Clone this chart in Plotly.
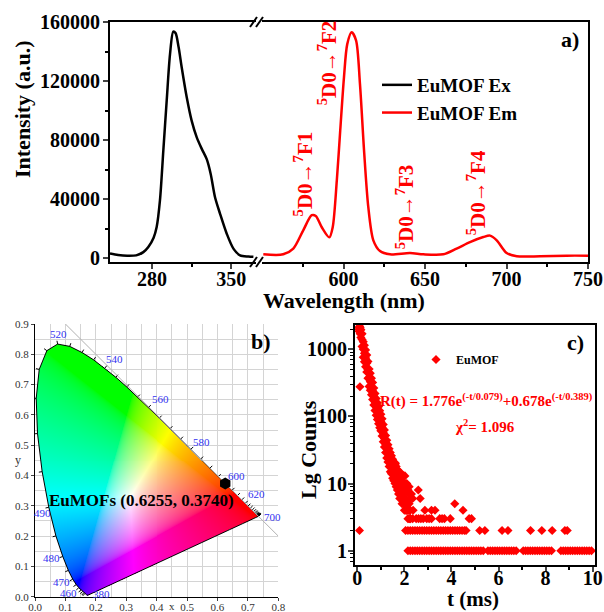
import numpy as np
import plotly.graph_objects as go
import zlib, struct, base64

W, H = 604, 612
def fx(p): return p / W
def fy(p): return 1 - p / H

SERIF = "Liberation Serif, Times New Roman, serif"

# ---------------- Panel a: excitation / emission spectra ----------------
ex_wl = [242.8, 250, 258, 266, 272.3, 276.7, 281.4, 284.1, 287.0, 290.0, 293.0, 295.9, 298.8, 300.8,
         303.5, 306.2, 310.7, 315.1, 319.5, 324.0, 328.4, 331.9, 335.8, 340.2, 346.1, 352.0, 357.9,
         365.3, 369.7]
ex_int = [3000, 2000, 1500, 1800, 4000, 7500, 13800, 21000, 39000, 73000, 107000, 138000, 153500,
          152500, 143000, 129500, 109000, 93000, 82000, 74000, 67000, 57000, 41000, 30000, 16500,
          6400, 1800, 1000, 800]

em_wl = [550.8, 563, 569.2, 575.3, 580.5, 583.0, 586.6, 591.3, 593.4, 595.9, 598.0, 600.3, 602.3,
         605.0, 607.7, 610.1, 612.6, 615.2, 618.3, 622.4, 628.5, 640.8, 649.0, 661.2, 669.4, 677.6,
         685.8, 689.9, 694.0, 700.1, 706.3, 720.6, 736.9, 750.0]
em_int = [2500, 2500, 6400, 18800, 29000, 28500, 21000, 14000, 21000, 52700, 86600, 122700, 145000,
          153000, 147600, 118000, 73000, 34600, 12000, 4700, 2500, 3400, 2500, 2500, 6400, 10800,
          14200, 15200, 12000, 3400, 1200, 1200, 1600, 1600]

trans_labels = ["<sup>5</sup>D0\u2192<sup>7</sup>F1", "<sup>5</sup>D0\u2192<sup>7</sup>F2",
                "<sup>5</sup>D0\u2192<sup>7</sup>F3", "<sup>5</sup>D0\u2192<sup>7</sup>F4"]
trans_wl = [575.2, 589.9, 637.7, 681.3]
trans_int = [56700, 132000, 35000, 43900]

ax_left_ticks = [280, 350]
ax_right_ticks = [600, 650, 700, 750]
ay_ticks = [0, 40000, 80000, 120000, 160000]
ay_ticktext = ["0", "40000", "80000", "120000", "160000"]

# ---------------- Panel b: CIE 1931 chromaticity ----------------
cie_wl = [380, 385, 390, 395, 400, 405, 410, 415, 420, 425, 430, 435, 440, 445, 450, 455, 460, 465,
          470, 475, 480, 485, 490, 495, 500, 505, 510, 515, 520, 525, 530, 535, 540, 545, 550, 555,
          560, 565, 570, 575, 580, 585, 590, 595, 600, 605, 610, 615, 620, 625, 630, 635, 640, 645,
          650, 655, 660, 665, 670, 675, 680, 685, 690, 695, 700]
cie_x = [0.1741, 0.1740, 0.1738, 0.1736, 0.1733, 0.1730, 0.1726, 0.1721, 0.1714, 0.1703, 0.1689,
         0.1669, 0.1644, 0.1611, 0.1566, 0.1510, 0.1440, 0.1355, 0.1241, 0.1096, 0.0913, 0.0687,
         0.0454, 0.0235, 0.0082, 0.0039, 0.0139, 0.0389, 0.0743, 0.1142, 0.1547, 0.1929, 0.2296,
         0.2658, 0.3016, 0.3373, 0.3731, 0.4087, 0.4441, 0.4788, 0.5125, 0.5448, 0.5752, 0.6029,
         0.6270, 0.6482, 0.6658, 0.6801, 0.6915, 0.7006, 0.7079, 0.7140, 0.7190, 0.7230, 0.7260,
         0.7283, 0.7300, 0.7311, 0.7320, 0.7327, 0.7334, 0.7340, 0.7344, 0.7346, 0.7347]
cie_y = [0.0050, 0.0050, 0.0049, 0.0049, 0.0048, 0.0048, 0.0048, 0.0048, 0.0051, 0.0058, 0.0069,
         0.0086, 0.0109, 0.0138, 0.0177, 0.0227, 0.0297, 0.0399, 0.0578, 0.0868, 0.1327, 0.2007,
         0.2950, 0.4127, 0.5384, 0.6548, 0.7502, 0.8120, 0.8338, 0.8262, 0.8059, 0.7816, 0.7543,
         0.7243, 0.6923, 0.6589, 0.6245, 0.5896, 0.5547, 0.5202, 0.4866, 0.4544, 0.4242, 0.3965,
         0.3725, 0.3514, 0.3340, 0.3197, 0.3083, 0.2993, 0.2920, 0.2859, 0.2809, 0.2770, 0.2740,
         0.2717, 0.2700, 0.2689, 0.2680, 0.2673, 0.2666, 0.2660, 0.2656, 0.2654, 0.2653]

wl_label_text = ["520", "540", "560", "580", "600", "620", "700", "500", "490", "480", "470", "460", "380"]
wl_label_x = [0.077, 0.263, 0.411, 0.548, 0.664, 0.729, 0.782, -0.033, 0.026, 0.055, 0.088, 0.110, 0.218]
wl_label_y = [0.867, 0.785, 0.654, 0.512, 0.400, 0.339, 0.264, 0.540, 0.275, 0.128, 0.050, 0.0135, 0.008]

sample_name = "EuMOFs"
sample_x = [0.6255]
sample_y = [0.3740]

# ---------------- Panel c: luminescence decay ----------------
band_t = [0.08, 0.10, 0.12, 0.15, 0.20, 0.25, 0.30, 0.35, 0.40, 0.45, 0.50, 0.55, 0.60, 0.65, 0.70,
          0.75, 0.80, 0.85, 0.90, 0.95, 1.00, 1.05, 1.10, 1.15, 1.20, 1.25, 1.30, 1.35, 1.40, 1.45,
          1.50, 1.55, 1.60, 1.65, 1.70, 1.75, 1.80, 1.85, 1.90, 1.95, 2.00, 2.05, 2.10, 2.15, 2.20, 2.25]
band_mid = [2000, 2050, 1950, 1750, 1400, 1000, 870, 740, 620, 500, 380, 330, 280, 240, 200, 166,
            140, 122, 105, 92, 83, 69, 57, 47, 39, 33, 28, 24, 21, 19, 17, 15, 13, 12, 10, 9, 8, 8,
            7, 7, 6, 6, 5, 5, 5, 4]
band_hi = [2150, 2200, 2100, 1950, 1700, 1300, 1150, 980, 820, 660, 510, 440, 370, 320, 265, 220,
           185, 160, 140, 122, 108, 92, 76, 63, 52, 44, 38, 33, 29, 26, 23, 21, 19, 18, 16, 14, 13,
           12, 11, 10, 9, 9, 8, 8, 7, 6]
band_lo = [1850, 1900, 1700, 1500, 1100, 760, 650, 550, 460, 370, 280, 245, 210, 178, 148, 123, 104,
           90, 78, 68, 61, 51, 42, 35, 29, 24, 21, 18, 15, 14, 12, 11, 10, 9, 8, 7, 6, 6, 5, 5, 4, 4,
           4, 4, 3, 3]
extra_t = [0.11, 0.09, 1.62, 1.80, 1.95, 2.02, 2.10, 2.20, 2.30, 2.35, 2.59, 2.67, 4.14]
extra_c = [277, 2, 20, 15, 13, 13, 10, 9, 7, 6, 8, 6, 5]
row4_t = [2.10, 2.20, 2.37, 2.87, 3.15, 3.30, 4.49]
row3_t = [2.15, 2.25, 2.35, 2.50, 2.60, 2.70, 2.80, 2.95, 3.05, 3.15, 3.50, 3.60, 3.70, 3.95, 4.75, 4.85]
row2_t = [2.05, 2.15, 2.25, 2.35, 2.45, 2.55, 2.65, 2.75, 2.85, 2.95, 3.05, 3.15, 3.25, 3.35, 3.45,
          3.55, 3.65, 3.75, 3.85, 3.95, 4.05, 4.15, 4.25, 4.35, 4.45, 4.55, 4.62, 5.20, 5.42, 6.15,
          6.40, 7.36, 7.84, 8.28, 8.82, 8.92]
row1_t = [2.15, 2.25, 2.35, 2.45, 2.55, 2.65, 2.75, 2.85, 2.95, 3.05, 3.15, 3.25, 3.35, 3.45, 3.55,
          3.65, 3.75, 3.85, 3.95, 4.05, 4.15, 4.25, 4.35, 4.45, 4.55, 4.65, 4.75, 4.85, 4.95, 5.05,
          5.15, 5.25, 5.35, 5.55, 5.65, 5.75, 5.85, 5.95, 6.05, 6.15, 6.25, 6.35, 6.45, 6.55, 6.65,
          6.75, 7.05, 7.15, 7.25, 7.35, 7.45, 7.55, 7.65, 7.75, 7.85, 7.95, 8.05, 8.15, 8.25, 8.65,
          8.75, 8.85, 8.95, 9.05, 9.15, 9.25, 9.35, 9.45, 9.55, 9.65, 9.75, 9.85, 9.95]

decay_t = band_t * 3 + extra_t + row4_t + row3_t + row2_t + row1_t
decay_c = (band_mid + band_hi + band_lo + extra_c + [4] * len(row4_t) + [3] * len(row3_t)
           + [2] * len(row2_t) + [1] * len(row1_t))

# ================= figure =================
fig = go.Figure()

fig.add_trace(go.Scatter(x=ex_wl, y=ex_int, mode="lines", name="EuMOF Ex",
                         line=dict(color="black", width=2.5, shape="spline", smoothing=0.8),
                         xaxis="x", yaxis="y", legend="legend"))
fig.add_trace(go.Scatter(x=em_wl, y=em_int, mode="lines", name="EuMOF Em",
                         line=dict(color="red", width=2.5, shape="spline", smoothing=0.8),
                         xaxis="x2", yaxis="y2", legend="legend"))

# --- chromaticity colour fill (computed from the locus polygon) ---
nx, ny = 244, 274
dxp, dyp = 0.8 / nx, 0.9 / ny
gx = (np.arange(nx) + 0.5) * dxp
gy = (np.arange(ny) + 0.5) * dyp
GX, GY = np.meshgrid(gx, gy)
vx = np.array(cie_x); vy = np.array(cie_y)
inside = np.zeros(GX.shape, bool)
j = len(vx) - 1
for i in range(len(vx)):
    den = vy[j] - vy[i]
    if den == 0:
        den = 1e-12
    cond = ((vy[i] > GY) != (vy[j] > GY)) & (GX < (vx[j] - vx[i]) * (GY - vy[i]) / den + vx[i])
    inside ^= cond
    j = i
Xc = GX / GY
Zc = (1 - GX - GY) / GY
M = np.array([[3.2406, -1.5372, -0.4986], [-0.9689, 1.8758, 0.0415], [0.0557, -0.2040, 1.0570]])
rgb = np.stack([M[k, 0] * Xc + M[k, 1] * 1.0 + M[k, 2] * Zc for k in range(3)], axis=-1)
rgb = np.clip(rgb, 0, None)
rgb = rgb / np.maximum(rgb.max(axis=-1, keepdims=True), 1e-9)
rgb = np.where(rgb <= 0.0031308, 12.92 * rgb, 1.055 * np.power(rgb, 1 / 2.4) - 0.055)
img = np.zeros((ny, nx, 4), np.uint8)
img[..., :3] = np.clip(rgb * 255, 0, 255).astype(np.uint8)
img[..., 3] = np.where(inside, 255, 0).astype(np.uint8)


def png_uri(arr):
    h, w, _ = arr.shape
    raw = b"".join(b"\x00" + arr[r].tobytes() for r in range(h))

    def chunk(t, d):
        c = struct.pack(">I", len(d)) + t + d
        return c + struct.pack(">I", zlib.crc32(t + d) & 0xffffffff)
    png = (b"\x89PNG\r\n\x1a\n" + chunk(b"IHDR", struct.pack(">IIBBBBB", w, h, 8, 6, 0, 0, 0))
           + chunk(b"IDAT", zlib.compress(raw, 9)) + chunk(b"IEND", b""))
    return "data:image/png;base64," + base64.b64encode(png).decode()


fig.add_trace(go.Image(source=png_uri(img), x0=dxp / 2, y0=0.9 - dyp / 2, dx=dxp, dy=-dyp,
                       xaxis="x3", yaxis="y3", hoverinfo="skip"))

# locus outline
fig.add_trace(go.Scatter(x=cie_x + [cie_x[0]], y=cie_y + [cie_y[0]], mode="lines",
                         line=dict(color="black", width=1), xaxis="x3", yaxis="y3",
                         showlegend=False, hoverinfo="skip"))
# locus tick marks
tkx, tky = [], []
n = len(cie_wl)
for i in range(n):
    if cie_wl[i] < 440:
        continue
    i0, i1 = max(i - 1, 0), min(i + 1, n - 1)
    ddx = cie_x[i1] - cie_x[i0]; ddy = cie_y[i1] - cie_y[i0]
    L = (ddx ** 2 + ddy ** 2) ** 0.5
    nxv, nyv = -ddy / L, ddx / L
    tkx += [cie_x[i], cie_x[i] + 0.011 * nxv, None]
    tky += [cie_y[i], cie_y[i] + 0.011 * nyv, None]
fig.add_trace(go.Scatter(x=tkx, y=tky, mode="lines", line=dict(color="black", width=1),
                         xaxis="x3", yaxis="y3", showlegend=False, hoverinfo="skip"))
# x + y = 1 guide line
fig.add_trace(go.Scatter(x=[0.1, 0.8], y=[0.9, 0.2], mode="lines",
                         line=dict(color="#b0b0b0", width=1), xaxis="x3", yaxis="y3",
                         showlegend=False, hoverinfo="skip"))
fig.add_trace(go.Scatter(x=sample_x, y=sample_y, mode="markers",
                         marker=dict(symbol="hexagon", size=12, color="black"),
                         xaxis="x3", yaxis="y3", showlegend=False))

# decay
fig.add_trace(go.Scatter(x=decay_t, y=decay_c, mode="markers", name="EuMOF",
                         marker=dict(symbol="diamond", size=7, color="red"),
                         xaxis="x4", yaxis="y4", legend="legend2"))

tickfont_big = dict(family=SERIF, size=20, color="black", weight="bold")
common_a = dict(showline=True, linecolor="black", linewidth=2, ticks="outside", tickwidth=1.5,
                ticklen=5, tickfont=tickfont_big, showgrid=False, zeroline=False, automargin=False)

fig.update_layout(
    width=W, height=H, margin=dict(l=0, r=0, t=0, b=0, autoexpand=False),
    plot_bgcolor="white", paper_bgcolor="white",
    xaxis=dict(domain=[fx(110), fx(256)], range=[242.8, 372], anchor="y", mirror=True,
               tickvals=ax_left_ticks, ticklabelstandoff=-7,
               minor=dict(tickvals=[315], ticks="outside", ticklen=3, tickwidth=1.5,
                          tickcolor="black"), **common_a),
    xaxis2=dict(domain=[fx(262), fx(588)], range=[550, 750], anchor="y2", mirror=True,
                tickvals=ax_right_ticks, ticklabelstandoff=-7,
                minor=dict(tickvals=[575, 625, 675, 725], ticks="outside", ticklen=3,
                           tickwidth=1.5, tickcolor="black"), **common_a),
    yaxis=dict(domain=[fy(262), fy(22)], range=[-2700, 160000], anchor="x", tickvals=ay_ticks,
               ticktext=ay_ticktext, ticklabelstandoff=-1,
               minor=dict(dtick=20000, ticks="outside", ticklen=3, tickwidth=1.5, tickcolor="black"),
               **common_a),
    yaxis2=dict(domain=[fy(262), fy(22)], range=[-2700, 160000], anchor="x2", side="right",
                showline=True, linecolor="black", linewidth=2, showticklabels=False, ticks="",
                showgrid=False, zeroline=False),
    xaxis3=dict(domain=[fx(35), fx(278.3)], range=[0, 0.8], anchor="y3", dtick=0.1, tick0=0,
                tickformat=".1f", showline=True, linecolor="black", linewidth=1, ticks="outside",
                ticklen=3, tickcolor="#444", showgrid=True, gridcolor="#d4d4d4", gridwidth=1,
                ticklabelstandoff=-3,
                minor=dict(dtick=0.05, showgrid=True, gridcolor="#d4d4d4", gridwidth=1),
                tickfont=dict(family=SERIF, size=11, color="#333"), zeroline=False, automargin=False),
    yaxis3=dict(domain=[fy(596.7), fy(324)], range=[0, 0.9], anchor="x3", dtick=0.1, tick0=0,
                tickformat=".1f", showline=True, linecolor="black", linewidth=1, ticks="outside",
                ticklen=3, tickcolor="#444", showgrid=True, gridcolor="#d4d4d4", gridwidth=1,
                minor=dict(dtick=0.05, showgrid=True, gridcolor="#d4d4d4", gridwidth=1),
                tickfont=dict(family=SERIF, size=11, color="#333"), zeroline=False,
                scaleanchor=False, automargin=False),
    xaxis4=dict(domain=[fx(355), fx(595)], range=[-0.1, 10.1], anchor="y4", mirror=True,
                tickvals=[0, 2, 4, 6, 8, 10], ticklabelstandoff=-11,
                minor=dict(tickvals=[1, 3, 5, 7, 9], ticks="outside", ticklen=3, tickwidth=1.5,
                           tickcolor="black"), **common_a),
    yaxis4=dict(domain=[fy(565), fy(325)], type="log", range=[-0.213, 3.362], anchor="x4",
                mirror=True, tickvals=[1, 10, 100, 1000], ticktext=["1", "10", "100", "1000"],
                ticklabelstandoff=-3,
                minor=dict(ticks="outside", ticklen=3, tickwidth=1, tickcolor="black", dtick="D1"),
                **common_a),
    legend=dict(x=fx(377), y=fy(66), xanchor="left", yanchor="top", bgcolor="rgba(0,0,0,0)",
                font=dict(family=SERIF, size=19, color="black", weight="bold"), tracegroupgap=0),
    legend2=dict(x=fx(416), y=fy(345), xanchor="left", yanchor="top", bgcolor="rgba(0,0,0,0)",
                 font=dict(family=SERIF, size=12, color="black", weight="bold")),
)

ann = []


def add_text(x, y, text, font, xref="paper", yref="paper", angle=0):
    if xref == "paper":
        x = fx(x)
    if yref == "paper":
        y = fy(y)
    ann.append(dict(x=x, y=y, xref=xref, yref=yref, text=text, textangle=angle, showarrow=False,
                    xanchor="center", yanchor="middle", font=font))


def bold(size, color="black"):
    return dict(family=SERIF, size=size, color=color, weight="bold")


# panel a
for txt, xw, yi in zip(trans_labels, trans_wl, trans_int):
    add_text(xw, yi, "<b>" + txt + "</b>", bold(21, "red"), xref="x2", yref="y", angle=-90)
add_text(22, 109, "Intensity (a.u.)", bold(22), angle=-90)
add_text(344, 300, "Wavelength (nm)", bold(22))
add_text(570, 39, "a)", bold(22))
# panel b
for t, xx, yy in zip(wl_label_text, wl_label_x, wl_label_y):
    add_text(xx, yy, t, dict(family=SERIF, size=11, color="#3232f0"), xref="x3", yref="y3")
add_text(0.349, 0.318, f"{sample_name} ({sample_x[0]:.4f}, {sample_y[0]:.4f})", bold(17),
         xref="x3", yref="y3")
add_text(261, 341, "b)", bold(22))
add_text(172, 606, "x", dict(family=SERIF, size=11, color="#333"))
add_text(18, 460, "y", dict(family=SERIF, size=12, color="#333"))
# panel c
add_text(575, 342, "c)", bold(22))
add_text(486, 400, "R(t) = 1.776e<sup>(-t/0.079)</sup>+0.678e<sup>(-t/0.389)</sup>", bold(15, "red"))
add_text(485, 426, "\u03c7<sup>2</sup>= 1.096", bold(15, "red"))
add_text(308, 450, "Lg Counts", bold(22), angle=-90)
add_text(473, 599, "t (ms)", bold(21))
fig.update_layout(annotations=ann)

# axis-break marks
shapes = []
for (x0p, x1p) in [(250, 257), (256, 263)]:
    shapes.append(dict(type="line", xref="paper", yref="paper", x0=fx(x0p), x1=fx(x1p),
                       y0=fy(27), y1=fy(17), line=dict(color="black", width=2)))
    shapes.append(dict(type="line", xref="paper", yref="paper", x0=fx(x0p), x1=fx(x1p),
                       y0=fy(267), y1=fy(257), line=dict(color="black", width=2)))
fig.update_layout(shapes=shapes)

fig.write_html("out.html")
